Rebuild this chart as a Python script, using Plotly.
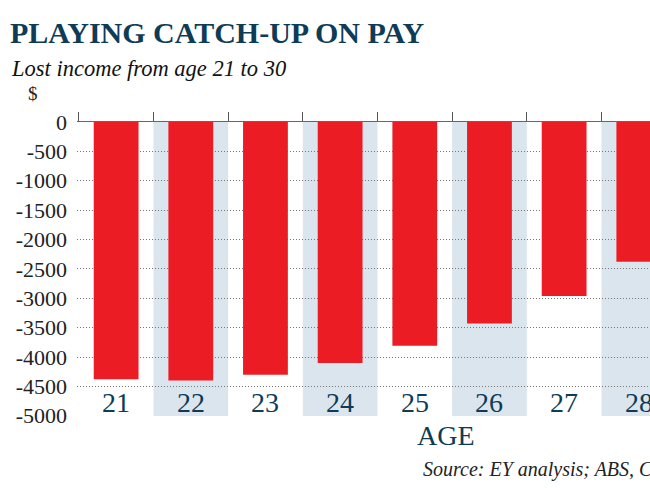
import plotly.graph_objects as go

# ---- data ----
ages = ["21", "22", "23", "24", "25", "26", "27", "28"]
lost_income = [-4380, -4400, -4300, -4100, -3810, -3430, -2960, -2380]
shaded_ages = ["22", "24", "26", "28"]
y_tick_vals = [0, -500, -1000, -1500, -2000, -2500, -3000, -3500, -4000, -4500, -5000]
y_tick_text = ["0", "-500", "-1000", "-1500", "-2000", "-2500", "-3000", "-3500", "-4000", "-4500", "-5000"]

title_text = "PLAYING CATCH-UP ON PAY"
subtitle_text = "Lost income from age 21 to 30"
unit_text = "$"
x_title_text = "AGE"
source_text = "Source: EY analysis; ABS, C"

# ---- style ----
W, H = 650, 488
ML, MR, MT, MB = 77, 0, 122, 72
PW, PH = W - ML - MR, H - MT - MB
TEAL = "#0e3c57"
RED = "#ec1c24"
BAND = "#dbe5ee"
SERIF = "Liberation Serif, Times New Roman, serif"


def px_x(px):
    return (px - ML) / PW


def px_y(py):
    return (H - MB - py) / PH


fig = go.Figure()
fig.add_trace(go.Bar(
    x=ages, y=lost_income, width=0.6, marker=dict(color=RED, line=dict(width=0)),
    xaxis="x", yaxis="y", showlegend=False, hoverinfo="x+y",
))
# helper trace so the top (tick) axis shares the categories
fig.add_trace(go.Scatter(
    x=ages, y=[None] * len(ages), xaxis="x2", yaxis="y",
    mode="markers", showlegend=False, hoverinfo="skip",
))

shapes = []
for i, a in enumerate(ages):
    if a in shaded_ages:
        shapes.append(dict(type="rect", xref="x", yref="paper", x0=i - 0.5, x1=i + 0.5,
                           y0=0, y1=1, fillcolor=BAND, line=dict(width=0), layer="below"))

x_range = [-0.524, 7.15]

annotations = [
    dict(text="<b>" + title_text + "</b>", xref="paper", yref="paper", x=px_x(8), y=px_y(51),
         xanchor="left", yanchor="bottom", showarrow=False,
         font=dict(family=SERIF, size=30, color=TEAL)),
    dict(text="<i>" + subtitle_text + "</i>", xref="paper", yref="paper", x=px_x(9), y=px_y(83),
         xanchor="left", yanchor="bottom", showarrow=False,
         font=dict(family=SERIF, size=22.5, color="#111111")),
    dict(text=unit_text, xref="paper", yref="paper", x=px_x(26), y=px_y(106),
         xanchor="left", yanchor="bottom", showarrow=False,
         font=dict(family=SERIF, size=19, color="#222222")),
    dict(text=x_title_text, xref="paper", yref="paper", x=px_x(446), y=px_y(418),
         xanchor="center", yanchor="top", showarrow=False,
         font=dict(family=SERIF, size=28, color=TEAL)),
    dict(text="<i>" + source_text + "</i>", xref="paper", yref="paper", x=px_x(421), y=px_y(456),
         xanchor="left", yanchor="top", showarrow=False,
         font=dict(family=SERIF, size=20, color="#222222")),
]
# category labels inside the plot, just above the bottom gridline
for i, a in enumerate(ages):
    annotations.append(dict(text=a, xref="x", yref="paper", x=i, y=px_y(420),
                            xanchor="center", yanchor="bottom", showarrow=False,
                            font=dict(family=SERIF, size=28, color=TEAL)))

fig.update_layout(
    width=W, height=H,
    margin=dict(l=ML, r=MR, t=MT, b=MB, pad=0),
    paper_bgcolor="white", plot_bgcolor="white",
    barmode="overlay",
    shapes=shapes,
    annotations=annotations,
    xaxis=dict(
        type="category", categoryorder="array", categoryarray=ages, range=x_range,
        showgrid=False, zeroline=False, showline=False, ticks="",
        showticklabels=False, fixedrange=True,
    ),
    xaxis2=dict(
        type="category", categoryorder="array", categoryarray=ages, range=x_range,
        overlaying="x", side="top", anchor="y", matches="x",
        showgrid=False, zeroline=False, showline=True, linecolor="#666666", linewidth=1,
        ticks="outside", tickson="boundaries", ticklen=9, tickcolor="#555555", tickwidth=1,
        showticklabels=False, fixedrange=True,
    ),
    yaxis=dict(
        range=[-5004, 0], tickvals=y_tick_vals, ticktext=y_tick_text,
        showgrid=True, gridcolor="#777777", griddash="1px,2px", gridwidth=1,
        zeroline=False, showline=False, ticks="", ticklabelstandoff=9,
        tickfont=dict(family=SERIF, size=22, color="#222222"),
        fixedrange=True,
    ),
)

fig.write_html("out.html", config={"displayModeBar": False},
               post_script="document.body.style.margin='0';")
